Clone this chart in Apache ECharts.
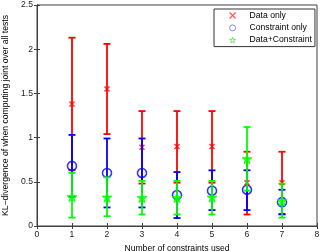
<!DOCTYPE html>
<html><head><meta charset="utf-8">
<script src="https://cdn.jsdelivr.net/npm/echarts@6/dist/echarts.min.js"></script>
<style>html,body{margin:0;padding:0;background:#fff}#c{width:320px;height:251px}</style>
</head><body><div id="c"></div>
<script>
const xs = [1, 2, 3, 4, 5, 6, 7];
const dataMean = [1.38, 1.55, 0.89, 0.90, 0.90, 0.49, 0.49];
const dataLow  = [0.63, 1.04, 0.48, 0.49, 0.49, 0.13, 0.13];
const dataHigh = [2.13, 2.06, 1.30, 1.30, 1.30, 0.84, 0.84];
const consMean = [0.68, 0.60, 0.60, 0.35, 0.40, 0.41, 0.27];
const consLow  = [0.33, 0.21, 0.21, 0.09, 0.18, 0.18, 0.135];
const consHigh = [1.03, 0.99, 0.99, 0.61, 0.63, 0.63, 0.41];
const bothMean = [0.33, 0.325, 0.32, 0.32, 0.325, 0.76, 0.285];
const bothLow  = [0.095, 0.11, 0.13, 0.13, 0.13, 0.40, 0.095];
const bothHigh = [0.60, 0.55, 0.51, 0.51, 0.51, 1.12, 0.48];
const xTicks = [0, 1, 2, 3, 4, 5, 6, 7, 8];
const yTicks = [0, 0.5, 1, 1.5, 2, 2.5];
const names = ['Data only', 'Constraint only', 'Data+Constraint'];

const FONT = 'Liberation Sans';
const FS = 8.6;
const AX = '#404040';
const crossPath = 'path://M0,0L10,10M10,0L0,10';
const starPath = 'path://M50,0L61,35L98,35L68,57L79,91L50,70L21,91L32,57L2,35L39,35Z';

function errSeries(name, color, lo, hi, z) {
  return {
    type: 'custom', name: name,
    data: xs.map((x, i) => [x, lo[i], hi[i]]),
    encode: {x: 0, y: [1, 2]},
    itemStyle: {color: color},
    renderItem: function (params, api) {
      const x = api.value(0), l = api.value(1), h = api.value(2);
      const a = api.coord([x, l]), b = api.coord([x, h]);
      const w = 3.5, st = {stroke: color, lineWidth: 1.8};
      return {type: 'group', children: [
        {type: 'line', shape: {x1: a[0], y1: a[1], x2: b[0], y2: b[1]}, style: st},
        {type: 'line', shape: {x1: a[0] - w, y1: a[1], x2: a[0] + w, y2: a[1]}, style: st},
        {type: 'line', shape: {x1: b[0] - w, y1: b[1], x2: b[0] + w, y2: b[1]}, style: st}
      ]};
    },
    z: z
  };
}
function pts(arr) { return xs.map((x, i) => [x, arr[i]]); }

const chart = echarts.init(document.getElementById('c'));
chart.setOption({
  animation: false,
  textStyle: {fontFamily: FONT},
  grid: {left: 37, right: 3, top: 5, bottom: 25, show: true, borderColor: AX, borderWidth: 1,
         containLabel: false, outerBoundsMode: 'none'},
  legend: {
    orient: 'vertical', left: 214, top: 9,
    itemWidth: 6, itemHeight: 6, itemGap: 2.3,
    padding: [1.5, 3, 1.5, 15],
    borderColor: '#333', borderWidth: 1, backgroundColor: '#fff',
    textStyle: {fontSize: FS, lineHeight: 10, color: '#000', fontFamily: FONT, padding: [0, 0, 0, 9]},
    data: [
      {name: names[0], icon: crossPath, itemStyle: {color: 'transparent', borderColor: '#ff3030', borderWidth: 1.2}},
      {name: names[1], icon: 'circle', itemStyle: {color: 'transparent', borderColor: '#7070ff', borderWidth: 1}},
      {name: names[2], icon: starPath, itemStyle: {color: 'transparent', borderColor: '#50e050', borderWidth: 1}}
    ]
  },
  xAxis: [{
    type: 'value', min: 0, max: 8, interval: 1,
    name: 'Number of constraints used', nameLocation: 'middle', nameGap: 15,
    nameTextStyle: {fontSize: FS, color: '#000', fontFamily: FONT},
    axisLine: {lineStyle: {color: AX}},
    axisTick: {inside: true, length: 3, lineStyle: {color: AX}},
    axisLabel: {fontSize: FS, color: '#222', margin: 4, fontFamily: FONT},
    splitLine: {show: false}
  }, {
    type: 'value', min: 0, max: 8, interval: 1, position: 'top',
    axisLine: {lineStyle: {color: AX}},
    axisTick: {inside: true, length: 3, lineStyle: {color: AX}},
    axisLabel: {show: false}, splitLine: {show: false}
  }],
  yAxis: [{
    type: 'value', min: 0, max: 2.5, interval: 0.5,
    name: 'KL\u2212divergence of when computing joint over all tests', nameLocation: 'middle', nameGap: 23,
    nameTextStyle: {fontSize: FS, color: '#000', fontFamily: FONT},
    axisLine: {show: true, lineStyle: {color: AX}},
    axisTick: {show: true, inside: true, length: 3, lineStyle: {color: AX}},
    axisLabel: {fontSize: FS, color: '#222', margin: 4, fontFamily: FONT},
    splitLine: {show: false}
  }, {
    type: 'value', min: 0, max: 2.5, interval: 0.5, position: 'right',
    axisLine: {show: true, lineStyle: {color: AX}},
    axisTick: {show: true, inside: true, length: 3, lineStyle: {color: AX}},
    axisLabel: {show: false}, splitLine: {show: false}
  }],
  series: [
    {type: 'scatter', name: names[0], data: pts(dataMean), symbol: crossPath, symbolSize: 5,
     itemStyle: {color: 'transparent', borderColor: '#ff0000', borderWidth: 1.5}, z: 3},
    {type: 'scatter', name: names[1], data: pts(consMean), symbol: 'circle', symbolSize: 9,
     itemStyle: {color: 'transparent', borderColor: '#0000ff', borderWidth: 1.6}, z: 5},
    {type: 'scatter', name: names[2], data: pts(bothMean), symbol: starPath, symbolSize: 10,
     itemStyle: {color: '#00ff00', borderColor: '#00ff00', borderWidth: 1}, z: 7},
    errSeries(names[0], '#ff0000', dataLow, dataHigh, 2),
    errSeries(names[1], '#0000ff', consLow, consHigh, 4),
    errSeries(names[2], '#00ff00', bothLow, bothHigh, 6)
  ]
});
</script>
</body></html>
